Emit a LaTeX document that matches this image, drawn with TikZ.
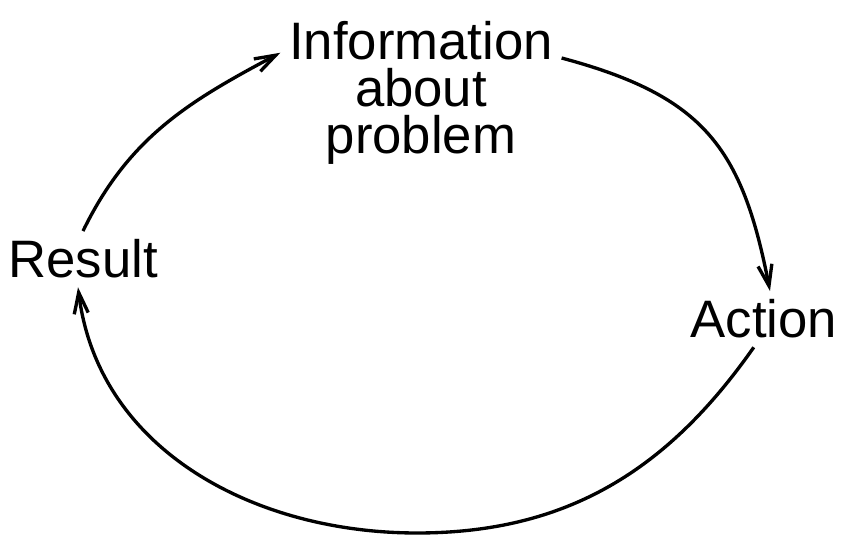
\documentclass[tikz,border=0pt]{standalone}
\usepackage{fontspec}
\setmainfont{Liberation Sans}
\usetikzlibrary{arrows.meta}

\begin{document}
\begin{tikzpicture}[x=0.02cm, y=0.02cm, line width=1.9pt,
  >={Straight Barb[length=12pt,width=8pt]},
  word/.style={font=\fontsize{30}{26.6}\selectfont, inner sep=0pt, outer sep=5pt}]
  \useasboundingbox (0,0) rectangle (841,536);

  \node[word, align=center, anchor=north] (info) at (421,523) {Information\\about\\problem};
  \node[word, anchor=base] (result) at (83,258) {Result};
  \node[word, anchor=base] (action) at (764,198) {Action};
  \coordinate (low) at (417,3);

  \draw[->] (result.north) to[out=64, in=208] (info.164);
  \draw[->] (info.14) to[out=-15, in=101, looseness=1.2] (action.78);
  \draw[->] (action.250) to[out=235, in=0] (low) to[out=180, in=277] (result.260);
\end{tikzpicture}
\end{document}
